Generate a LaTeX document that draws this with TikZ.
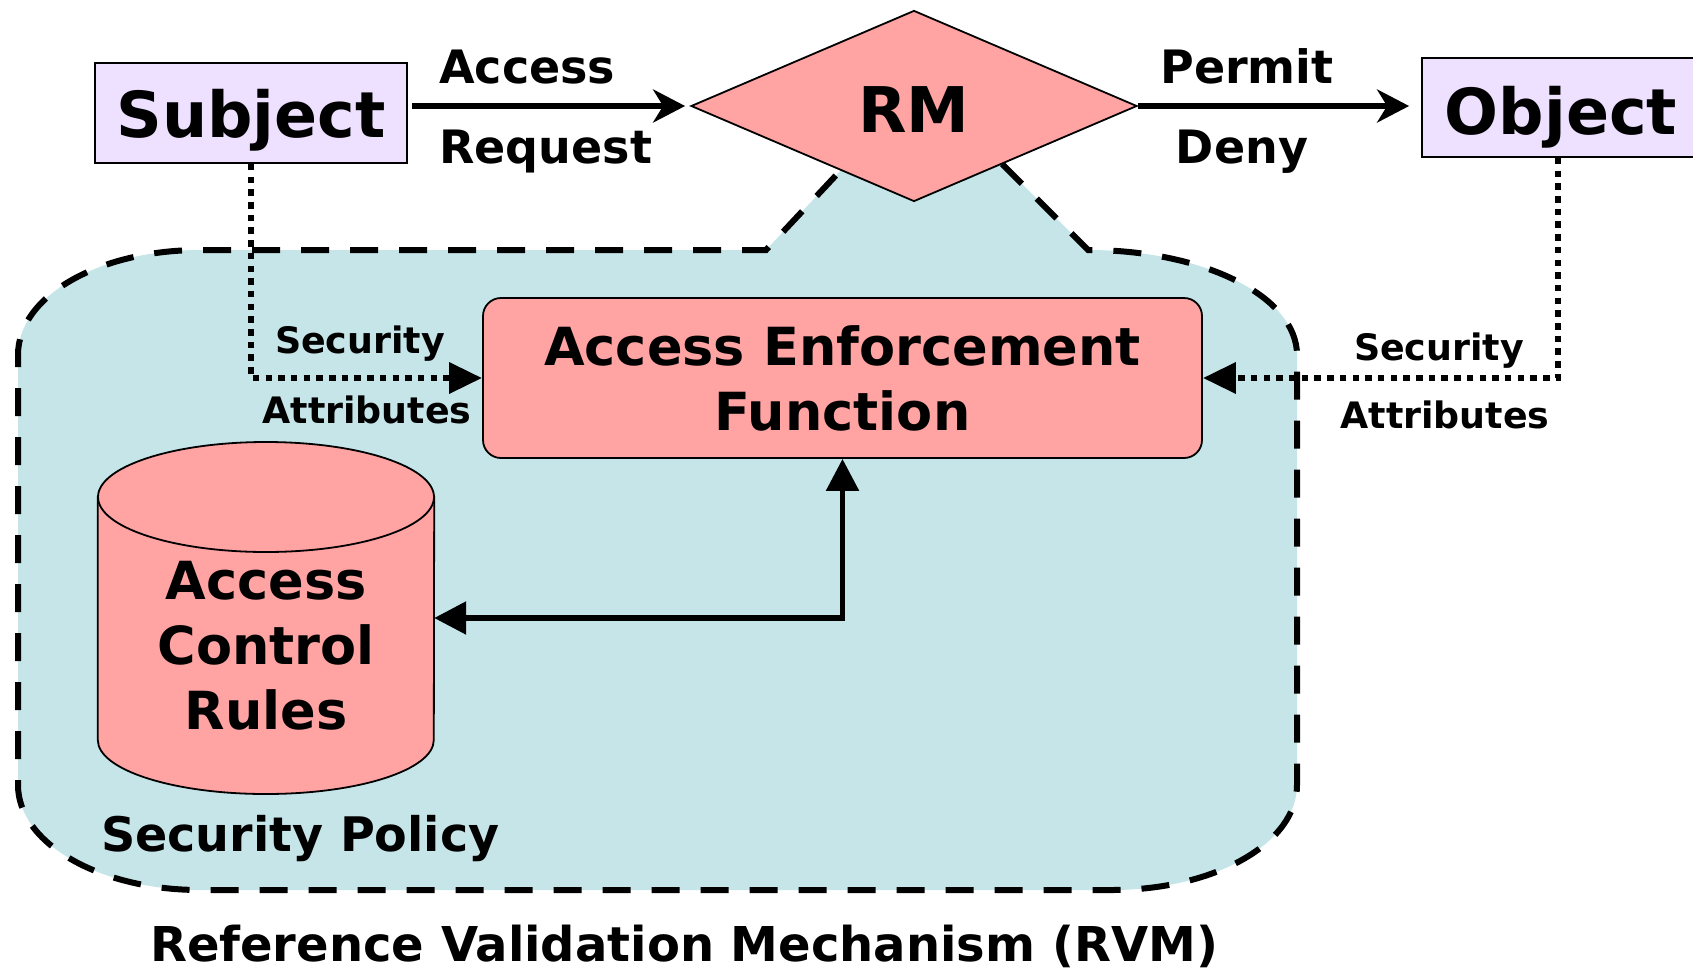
\documentclass[tikz,border=0pt]{standalone}
\usepackage{fontspec}
\setmainfont{DejaVu Sans}
\usetikzlibrary{arrows.meta,shapes.geometric}
\definecolor{pinkc}{RGB}{255,163,163}
\definecolor{lavc}{RGB}{238,224,255}
\definecolor{bluec}{RGB}{197,229,232}
\newcommand\myfs[2]{\fontsize{#1}{#2}\selectfont\bfseries}
\begin{document}
\begin{tikzpicture}[x=1pt,y=-1pt,
  thin border/.style={draw=black, line width=1.8pt},
  entity/.style={thin border, fill=lavc, inner sep=0pt, font=\myfs{63.5}{70}, text depth=0pt},
  lbl/.style={inner sep=0pt, anchor=base, font=\myfs{46}{55}},
  smalllbl/.style={inner sep=0pt, anchor=base, font=\myfs{36.4}{44}},
  bigarrow/.style={line width=5.5pt, -{Stealth[length=32pt,width=33pt,inset=10pt]}},
  dotline/.style={line width=6.5pt, dash pattern=on 6.5pt off 6.2pt, -{Triangle[length=33pt,width=30pt]}},
  solidarrow/.style={line width=5.5pt, {Triangle[length=32pt,width=32pt]}-{Triangle[length=32pt,width=32pt]}},
  regionline/.style={line width=6pt, dash pattern=on 28pt off 21pt, line join=miter}
]
\useasboundingbox (0,0) rectangle (1693,972);

% security region fill
\fill[bluec] (18,355) .. controls (18,296) and (99,250) .. (200,250)
  -- (766,250) -- (841,170) -- (914,202) -- (1002,164) -- (1088,250)
  .. controls (1205,250) and (1297,297) .. (1297,355)
  -- (1297,785) .. controls (1297,843) and (1215,890) .. (1112,890)
  -- (200,890) .. controls (99,890) and (18,843) .. (18,785) -- cycle;
% dashed outline
\draw[regionline] (1002,164) -- (1088,250)
  .. controls (1205,250) and (1297,297) .. (1297,355)
  -- (1297,785) .. controls (1297,843) and (1215,890) .. (1112,890)
  -- (200,890) .. controls (99,890) and (18,843) .. (18,785)
  -- (18,355) .. controls (18,296) and (99,250) .. (200,250)
  -- (766,250) -- (841,170);

% nodes
\node[entity, minimum width=312pt, minimum height=100pt, text height=48pt] (subject) at (251,113) {Subject};
\node[entity, minimum width=272pt, minimum height=99pt, text height=53pt] (object) at (1558,107.5) {\hspace*{6pt}Object};
\node[thin border, fill=pinkc, rounded corners=18pt, minimum width=719pt, minimum height=160pt,
      inner sep=0pt, align=center, font=\myfs{52.5}{65}] (aef) at (842.5,378) {Access Enforcement\\Function};

% cylinder
\node[inner sep=0pt, minimum width=336pt, minimum height=352pt] (cyl) at (266,618) {};
\filldraw[fill=pinkc, line width=1.8pt] (cyl.west |- 0,497) -- (cyl.west |- 0,740)
  arc[start angle=180, end angle=0, x radius=168, y radius=54] -- (cyl.east |- 0,497) -- cycle;
\filldraw[fill=pinkc, line width=1.8pt] (266,497) ellipse[x radius=168, y radius=55];
\node[inner sep=0pt, align=center, font=\myfs{52.5}{65}] (acr) at (266,646) {Access\\Control\\Rules};

% connectors
\draw[dotline] (subject.south) |- (aef.west);
\draw[dotline] (object.south) |- (aef.east);
\draw[solidarrow] (cyl.east) -| (aef.south);

% diamond
\node[diamond, thin border, fill=pinkc, inner sep=0pt, minimum width=446pt, minimum height=191pt,
      font=\myfs{63}{70}, text height=52pt, text depth=0pt] (rm) at (914,106) {RM};

\draw[bigarrow, shorten <=4pt, shorten >=5pt] (subject.east |- rm.west) -- (rm.west);
\draw[bigarrow, shorten >=12pt] (rm.east) -- (object.west |- rm.east);

% labels
\node[lbl, anchor=base west] (l1) at (439,83) {Access};
\node[lbl, anchor=base west] (l2) at (439,163) {Request};
\node[lbl] (l3) at (1247,83) {Permit};
\node[lbl] (l4) at (1242,163) {Deny};
\node[smalllbl] (s1) at (360,353) {Security};
\node[smalllbl] (s2) at (367,423) {Attributes};
\node[smalllbl] (s3) at (1439,360) {Security};
\node[smalllbl] (s4) at (1445,428) {Attributes};
\node[inner sep=0pt, anchor=base west, font=\myfs{47.6}{55}] (sp) at (101,851) {Security Policy};
\node[inner sep=0pt, anchor=base, font=\myfs{48}{55}] (rvm) at (684,961) {Reference Validation Mechanism (RVM)};
\end{tikzpicture}
\end{document}
